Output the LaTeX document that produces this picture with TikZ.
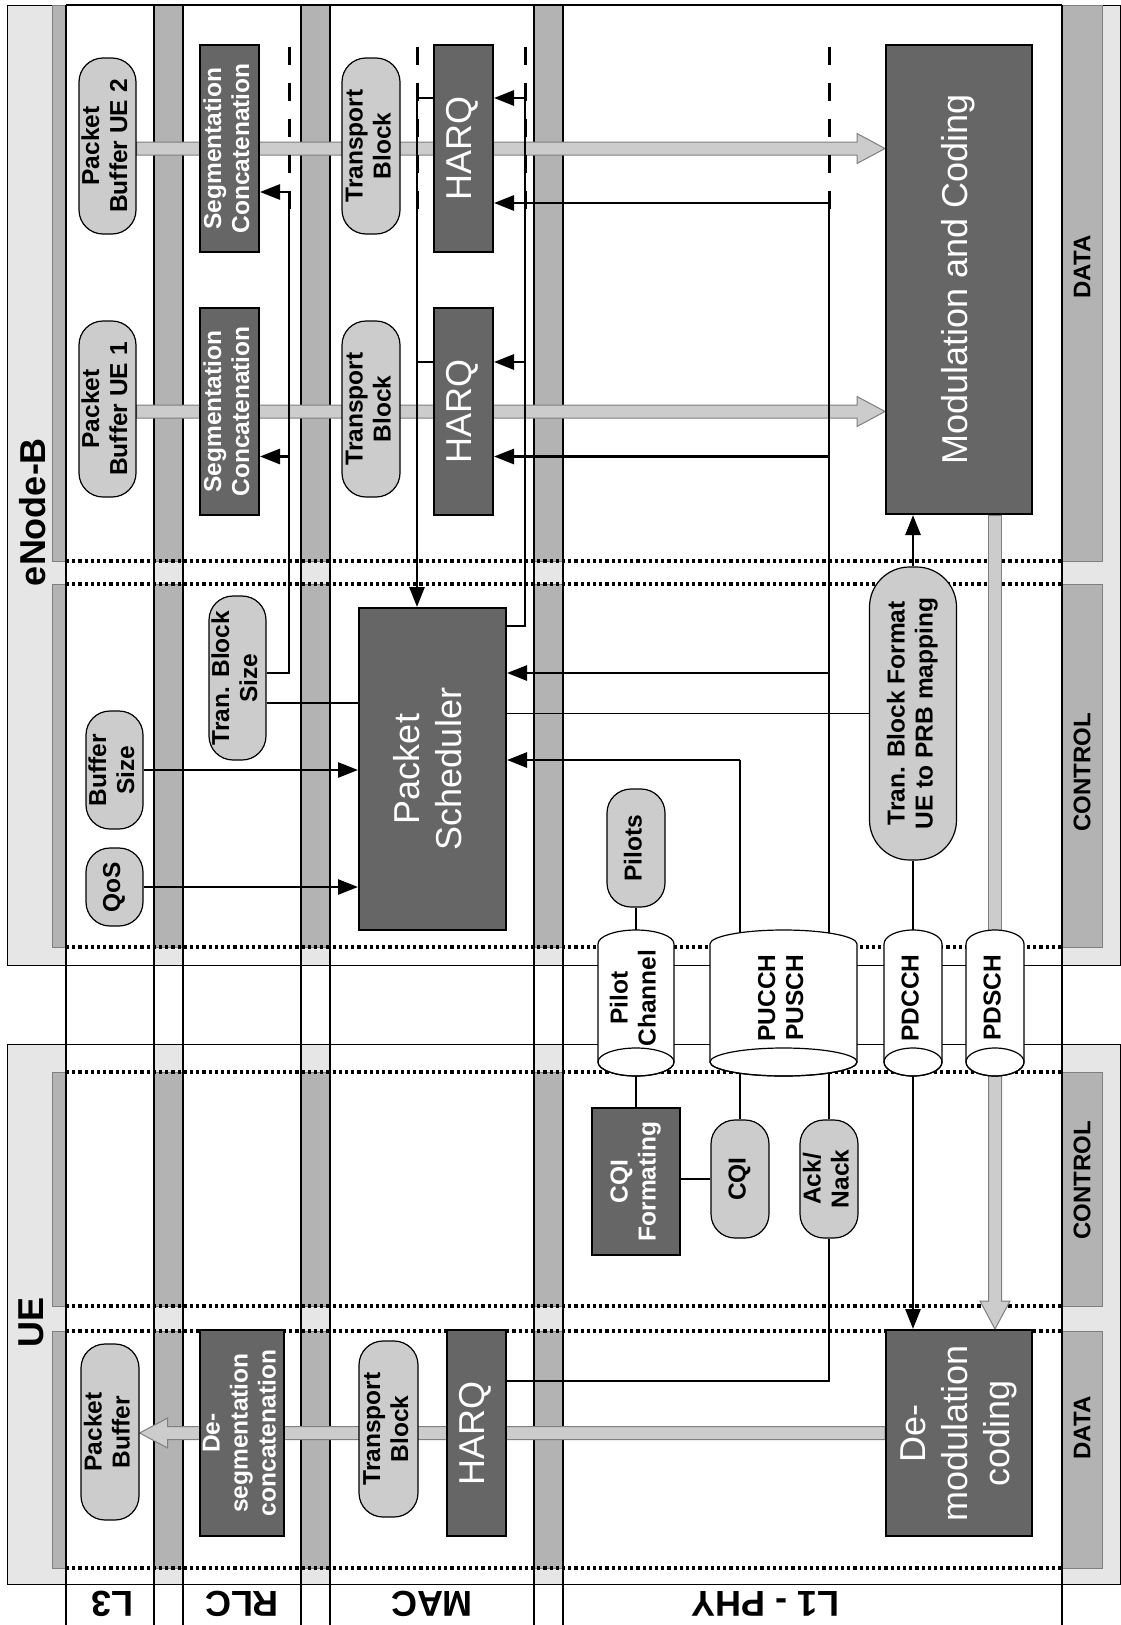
\documentclass[tikz,border=0pt]{standalone}
\usepackage{graphicx}
\usepackage{fontspec}
\setmainfont{Liberation Sans}
\usetikzlibrary{arrows.meta,calc}

\definecolor{pagegray}{HTML}{E6E6E6}
\definecolor{stripgray}{HTML}{B3B3B3}
\definecolor{pillgray}{HTML}{CCCCCC}
\definecolor{boxgray}{HTML}{666666}
\definecolor{edgegray}{HTML}{7F7F7F}

\pgfdeclarelayer{grid}
\pgfdeclarelayer{bands}
\pgfdeclarelayer{wires}
\pgfsetlayers{grid,bands,wires,main}

% text set sideways, several lines centred
\newcommand\vtext[1]{\rotatebox{90}{\begin{tabular}{@{}c@{}}#1\end{tabular}}}
\newcommand\lblfont{\fontsize{24.5}{28}\selectfont\bfseries}
\newcommand\boxfont{\fontsize{36}{42}\selectfont}
\newcommand\headfont{\fontsize{36}{40}\selectfont\bfseries}
\newcommand\sidefont{\fontsize{24}{27}\selectfont\bfseries}

% wide data-flow arrows (light band with outline)
\newcommand\bandright[2]{\filldraw[band] let \p1=#1, \p2=#2 in
  (\x1,\y1-6.5pt) -- (\x2-28pt,\y1-6.5pt) -- (\x2-28pt,\y1-15pt) -- (\x2,\y1)
  -- (\x2-28pt,\y1+15pt) -- (\x2-28pt,\y1+6.5pt) -- (\x1,\y1+6.5pt) -- cycle;}
\newcommand\bandleft[2]{\filldraw[band] let \p1=#1, \p2=#2 in
  (\x1,\y1-6.5pt) -- (\x2+28pt,\y1-6.5pt) -- (\x2+28pt,\y1-15pt) -- (\x2,\y1)
  -- (\x2+28pt,\y1+15pt) -- (\x2+28pt,\y1+6.5pt) -- (\x1,\y1+6.5pt) -- cycle;}
\newcommand\banddown[2]{\filldraw[band] let \p1=#1, \p2=#2 in
  (\x1-6.5pt,\y1) -- (\x1-6.5pt,\y2+28pt) -- (\x1-15pt,\y2+28pt) -- (\x1,\y2)
  -- (\x1+15pt,\y2+28pt) -- (\x1+6.5pt,\y2+28pt) -- (\x1+6.5pt,\y1) -- cycle;}
\newcommand\bandplain[2]{\filldraw[band] let \p1=#1, \p2=#2 in
  (\x1-6.5pt,\y1) rectangle (\x1+6.5pt,\y2);}

% physical channel drawn as an upright cylinder
\newcommand\drum[4]{%
  \filldraw[fill=white,draw=black,line width=1.2pt]
    (#2-#3,1062) -- (#2-#3,944) arc[start angle=180,end angle=0,x radius=#3pt,y radius=14pt]
    -- (#2+#3,1062) arc[start angle=0,end angle=-180,x radius=#3pt,y radius=14pt] -- cycle;
  \draw[line width=1.2pt] (#2,1062) ellipse[x radius=#3pt,y radius=14pt];
  \node[inner sep=0pt,font=\lblfont] (#1) at (#2,998) {\vtext{#4}};}

\begin{document}
\begin{tikzpicture}[x=1pt,y=-1pt,
  pill/.style={draw=black,line width=1.2pt,fill=pillgray,rounded corners=24pt,inner sep=0pt,font=\lblfont},
  darkbox/.style={draw=black,line width=2pt,fill=boxgray,inner sep=0pt,text=white},
  wirethin/.style={line width=1.6pt},
  wirethick/.style={line width=2.8pt},
  arrowhd/.style={-{Triangle[length=20pt,width=15pt]}},
  dashmark/.style={line width=3pt,dash pattern=on 18pt off 18pt},
  dotrow/.style={line width=3.2pt,dash pattern=on 3.2pt off 3pt},
  band/.style={draw=edgegray,line width=1pt,fill=pillgray},
  colline/.style={line width=2.2pt}]

\useasboundingbox (0,0) rectangle (1121,1625);

% ---------------- background: stations, planes, protocol layers
\begin{pgfonlayer}{grid}
  \fill[white] (0,0) rectangle (1121,1625);
  \filldraw[fill=pagegray,draw=black,line width=1pt] (7.5,5) rectangle (1120,965);
  \filldraw[fill=pagegray,draw=black,line width=1pt] (7.5,1044) rectangle (1120,1584);
  \foreach \a/\b in {5/561,584/947,1072/1306,1331/1568}
    \filldraw[fill=stripgray,draw=edgegray,line width=1pt] (52,\a) rectangle (1102,\b);
  \foreach \a/\b in {66/154,183/301,330/534,563/1062}
    \fill[white] (\a,5) rectangle (\b,1625);
  \foreach \y in {965,1044,1584} \draw[line width=1pt] (7.5,\y) -- (1120,\y);
  \draw[colline] (66,5) -- (1062,5);
  \foreach \y in {561,584,947,1072,1306,1331,1568} \draw[dotrow] (66,\y) -- (1062,\y);
  \foreach \x in {66,154,183,301,330,534,563,1062} \draw[colline] (\x,5) -- (\x,1625);
\end{pgfonlayer}

% ---------------- labels of stations, planes and layers
\node[font=\headfont,rotate=90] (enbLabel) at (33,512) {eNode-B};
\node[font=\headfont,rotate=90] (ueLabel) at (31,1322) {UE};
\node[font=\sidefont,rotate=90] (enbData) at (1082,267) {DATA};
\node[font=\sidefont,rotate=90] (enbCtrl) at (1082,772) {CONTROL};
\node[font=\sidefont,rotate=90] (ueCtrl) at (1082,1180) {CONTROL};
\node[font=\sidefont,rotate=90] (ueData) at (1082,1428) {DATA};
\node[font=\headfont,rotate=180] (layL3) at (112,1604) {L3};
\node[font=\headfont,rotate=180] (layRLC) at (242,1604) {RLC};
\node[font=\headfont,rotate=180] (layMAC) at (432,1604) {MAC};
\node[font=\headfont,rotate=180] (layPHY) at (765,1604) {L1 - PHY};

% ---------------- eNode-B data plane
\node[pill,minimum width=57pt,minimum height=176pt] (pbB) at (107.5,146) {\vtext{Packet\\Buffer UE 2}};
\node[darkbox,font=\lblfont,minimum width=59pt,minimum height=207pt] (segB) at (229.5,148.5) {\vtext{Segmentation\\Concatenation}};
\node[pill,minimum width=58pt,minimum height=176pt] (tbB) at (371,146) {\vtext{Transport\\Block}};
\node[darkbox,font=\boxfont,minimum width=59pt,minimum height=207pt] (harqB) at (463.5,148.5) {\vtext{HARQ}};

\node[pill,minimum width=57pt,minimum height=176pt] (pbA) at (107.5,409) {\vtext{Packet\\Buffer UE 1}};
\node[darkbox,font=\lblfont,minimum width=59pt,minimum height=207pt] (segA) at (229.5,411.5) {\vtext{Segmentation\\Concatenation}};
\node[pill,minimum width=58pt,minimum height=176pt] (tbA) at (371,409) {\vtext{Transport\\Block}};
\node[darkbox,font=\boxfont,minimum width=59pt,minimum height=207pt] (harqA) at (463.5,411.5) {\vtext{HARQ}};

\node[darkbox,font=\boxfont,minimum width=146pt,minimum height=469pt] (modc) at (959,279.5) {\vtext{Modulation and Coding}};

% ---------------- eNode-B control plane
\node[pill,minimum width=57pt,minimum height=164pt] (tbs) at (237.5,678) {\vtext{Tran. Block\\Size}};
\node[pill,minimum width=57pt,minimum height=118pt] (bufs) at (114.5,770) {\vtext{Buffer\\Size}};
\node[pill,minimum width=57pt,minimum height=78pt] (qos) at (114.5,887) {\vtext{QoS}};
\node[darkbox,font=\boxfont,minimum width=147pt,minimum height=322pt] (sched) at (432.5,769) {\vtext{Packet\\Scheduler}};
\node[pill,minimum width=58pt,minimum height=118pt] (pilots) at (636,848) {\vtext{Pilots}};
\node[pill,rounded corners=40pt,minimum width=87pt,minimum height=293pt] (tbf) at (913,713.5) {\vtext{Tran. Block Format\\UE to PRB mapping}};

% ---------------- physical channels
\drum{pilotch}{636}{38}{Pilot\\Channel}
\drum{pucch}{783.5}{73.5}{PUCCH\\PUSCH}
\drum{pdcch}{913}{29}{PDCCH}
\drum{pdsch}{995}{29}{PDSCH}

% ---------------- UE control plane
\node[darkbox,font=\lblfont,minimum width=88pt,minimum height=147pt] (cqif) at (636,1181.5) {\vtext{CQI\\Formating}};
\node[pill,minimum width=58pt,minimum height=118pt] (cqi) at (740,1179) {\vtext{CQI}};
\node[pill,minimum width=58pt,minimum height=118pt] (ack) at (829,1179) {\vtext{Ack/\\Nack}};

% ---------------- UE data plane
\node[pill,minimum width=58pt,minimum height=176pt] (pbU) at (110,1432) {\vtext{Packet\\Buffer}};
\node[darkbox,font=\lblfont,minimum width=84pt,minimum height=206pt] (desegU) at (242,1433) {\vtext{De-\\segmentation\\concatenation}};
\node[pill,minimum width=59pt,minimum height=176pt] (tbU) at (388.5,1429) {\vtext{Transport\\Block}};
\node[darkbox,font=\boxfont,minimum width=59pt,minimum height=206pt] (harqU) at (476.5,1433) {\vtext{HARQ}};
\node[darkbox,font=\boxfont,minimum width=146pt,minimum height=206pt] (demod) at (959,1433) {\vtext{De-\\modulation\\coding}};

% ---------------- user data flow
\begin{pgfonlayer}{bands}
  \bandright{(pbB.east |- segB.center)}{(modc.west |- segB.center)}
  \bandright{(pbA.east |- segA.center)}{(modc.west |- segA.center)}
  \bandplain{(pdsch.center |- modc.south)}{(pdsch.center)}
  \banddown{(pdsch.center)}{(pdsch.center |- demod.north)}
  \bandleft{(demod.west)}{(pbU.east |- demod.west)}
\end{pgfonlayer}

% ---------------- control signalling
\begin{pgfonlayer}{wires}
  \foreach \x in {289,417,525,829} \draw[dashmark] (\x,47) -- (\x,210);

  \coordinate (r2) at (289,192);
  \coordinate (r1) at (289,456.5);
  \coordinate (r0) at (289,673);
  \draw[wirethick] (r0 -| tbs.east) -- (r0) -- (r2);
  \draw[wirethick,arrowhd] (r2) -- (r2 -| segB.east);
  \draw[wirethick,arrowhd] (r1) -- (r1 -| segA.east);
  \coordinate (s0) at (300,703);
  \draw[wirethin] (s0 -| tbs.east) -- (s0 -| sched.west);

  \coordinate (m2) at (417,98);
  \coordinate (m1) at (417,362);
  \draw[wirethin] (m2 -| harqB.west) -- (m2);
  \draw[wirethin] (m1 -| harqA.west) -- (m1);
  \draw[wirethick,arrowhd] (m2) -- (m2 |- sched.north);

  \coordinate (h2) at (525,98);
  \coordinate (h1) at (525,362);
  \coordinate (h0) at (525,626);
  \draw[wirethin] (h0 -| sched.east) -- (h0) -- (h2);
  \draw[wirethick,arrowhd] (h2) -- (h2 -| harqB.east);
  \draw[wirethick,arrowhd] (h1) -- (h1 -| harqA.east);

  \coordinate (a2) at (829,203);
  \coordinate (a1) at (829,456.5);
  \coordinate (a0) at (829,673);
  \draw[wirethin] (a2) -- (a2 |- pucch.center);
  \draw[wirethick,arrowhd] (a2) -- (a2 -| harqB.east);
  \draw[wirethick,arrowhd] (a1) -- (a1 -| harqA.east);
  \draw[wirethick,arrowhd] (a0) -- (a0 -| sched.east);

  \coordinate (c0) at (740,760);
  \draw[wirethin] (c0 |- pucch.center) -- (c0);
  \draw[wirethick,arrowhd] (c0) -- (c0 -| sched.east);

  \draw[wirethin] (tbf.west) -- (tbf.west -| sched.east);
  \draw[wirethick,arrowhd] (bufs.east) -- (bufs.east -| sched.west);
  \draw[wirethick,arrowhd] (qos.east) -- (qos.east -| sched.west);
  \draw[wirethick] (pilots.south) -- (pilots.south |- pilotch.center);
  \draw[wirethick,arrowhd] (tbf.north) -- (tbf.north |- modc.south);
  \draw[wirethick] (tbf.south) -- (tbf.south |- pdcch.center);

  \draw[wirethick] (cqif.north) -- (cqif.north |- pilotch.center);
  \draw[wirethin] (cqi.west) -- (cqi.west -| cqif.east);
  \draw[wirethin] (cqi.north) -- (cqi.north |- pucch.center);
  \draw[wirethin] (ack.north) -- (ack.north |- pucch.center);
  \coordinate (u0) at (829,1381);
  \draw[wirethin] (ack.south) -- (u0) -- (u0 -| harqU.east);
  \draw[wirethick,arrowhd] (pdcch.center) -- (pdcch.center |- demod.north);
\end{pgfonlayer}

\end{tikzpicture}
\end{document}
